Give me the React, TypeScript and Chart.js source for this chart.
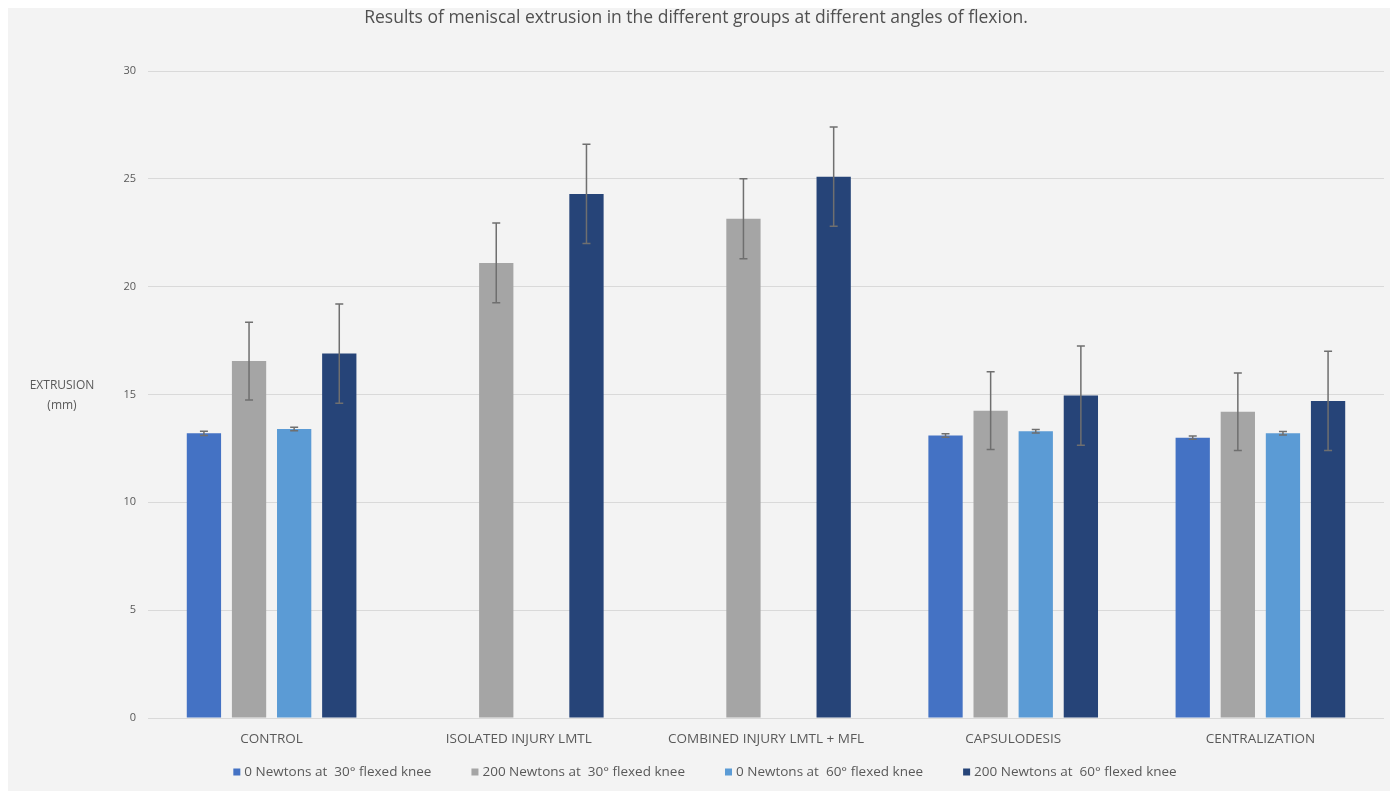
import React, { useEffect, useRef } from "react";
import { Chart, registerables } from "chart.js";

Chart.register(...registerables);

const categories = [
  "CONTROL",
  "ISOLATED INJURY LMTL",
  "COMBINED INJURY LMTL + MFL",
  "CAPSULODESIS",
  "CENTRALIZATION",
];

const seriesLabels = [
  "0 Newtons at  30° flexed knee",
  "200 Newtons at  30° flexed knee",
  "0 Newtons at  60° flexed knee",
  "200 Newtons at  60° flexed knee",
];

const seriesColors = ["#4472c4", "#a5a5a5", "#5b9bd5", "#264478"];

const n0deg30 = [13.2, null, null, 13.1, 13.0];
const n200deg30 = [16.55, 21.1, 23.15, 14.25, 14.2];
const n0deg60 = [13.4, null, null, 13.3, 13.2];
const n200deg60 = [16.9, 24.3, 25.1, 14.95, 14.7];

const err0deg30 = [0.1, null, null, 0.08, 0.08];
const err200deg30 = [1.8, 1.85, 1.85, 1.8, 1.8];
const err0deg60 = [0.08, null, null, 0.08, 0.08];
const err200deg60 = [2.3, 2.3, 2.3, 2.3, 2.3];

const yTicks = [0, 5, 10, 15, 20, 25, 30];

const seriesValues = [n0deg30, n200deg30, n0deg60, n200deg60];
const seriesErrors = [err0deg30, err200deg30, err0deg60, err200deg60];

const FONT = "'Open Sans', 'Noto Sans', sans-serif";

const errorBarPlugin = {
  id: "errorBars",
  afterDatasetsDraw(chart: any) {
    const ctx = chart.ctx;
    const yScale = chart.scales.y;
    ctx.save();
    ctx.strokeStyle = "#6f6f6f";
    ctx.lineWidth = 1.5;
    chart.data.datasets.forEach((ds: any, di: number) => {
      const meta = chart.getDatasetMeta(di);
      const errs = seriesErrors[di];
      meta.data.forEach((el: any, i: number) => {
        const v = ds.data[i];
        const e = errs[i];
        if (v == null || e == null) return;
        const x = el.x;
        const yHi = yScale.getPixelForValue(v + e);
        const yLo = yScale.getPixelForValue(v - e);
        ctx.beginPath();
        ctx.moveTo(x, yLo);
        ctx.lineTo(x, yHi);
        ctx.moveTo(x - 4, yHi);
        ctx.lineTo(x + 4, yHi);
        ctx.moveTo(x - 4, yLo);
        ctx.lineTo(x + 4, yLo);
        ctx.stroke();
      });
    });
    ctx.restore();
  },
};

const axisLabelPlugin = {
  id: "axisLabel",
  afterDraw(chart: any) {
    const ctx = chart.ctx;
    ctx.save();
    ctx.fillStyle = "#595959";
    ctx.font = `12px ${FONT}`;
    ctx.textAlign = "center";
    ctx.textBaseline = "middle";
    ctx.fillText("EXTRUSION", 54, 378);
    ctx.fillText("(mm)", 54, 398);
    ctx.restore();
  },
};

const customLegendPlugin = {
  id: "customLegend",
  afterDraw(chart: any) {
    const ctx = chart.ctx;
    ctx.save();
    ctx.font = `13.5px ${FONT}`;
    ctx.textBaseline = "middle";
    ctx.textAlign = "left";
    const box = 7;
    const boxGap = 4;
    const itemGap = 40;
    const widths = seriesLabels.map((t) => ctx.measureText(t).width + box + boxGap);
    const total = widths.reduce((a, b) => a + b, 0) + itemGap * (widths.length - 1);
    let x = chart.width / 2 + 6 - total / 2;
    const y = 764;
    seriesLabels.forEach((t, i) => {
      ctx.fillStyle = seriesColors[i];
      ctx.fillRect(x, y - box / 2, box, box);
      ctx.fillStyle = "#595959";
      ctx.fillText(t, x + box + boxGap, y);
      x += widths[i] + itemGap;
    });
    ctx.restore();
  },
};

export default function App() {
  const ref = useRef<HTMLCanvasElement | null>(null);

  useEffect(() => {
    if (!ref.current) return;
    const chart = new Chart(ref.current, {
      type: "bar",
      data: {
        labels: categories,
        datasets: seriesLabels.map((label, i) => ({
          label,
          data: seriesValues[i] as any,
          backgroundColor: seriesColors[i],
          borderWidth: 0,
          barPercentage: 0.76,
          categoryPercentage: 0.73,
        })),
      },
      options: {
        animation: false,
        responsive: true,
        maintainAspectRatio: false,
        layout: { padding: { left: 0, right: 6, top: 0, bottom: 33 } },
        plugins: {
          title: {
            display: true,
            text: "Results of meniscal extrusion in the different groups at different angles of flexion.",
            color: "#505050",
            font: { family: FONT, size: 17.5, weight: "normal" },
            padding: { top: 0, bottom: 42 },
          },
          legend: { display: false },
          tooltip: { enabled: false },
        },
        scales: {
          x: {
            grid: { display: false, drawTicks: false },
            border: { display: false },
            ticks: {
              color: "#595959",
              font: { family: FONT, size: 13.5 },
              padding: 13,
              maxRotation: 0,
              autoSkip: false,
            },
            afterFit(scale: any) {
              scale.height = 40;
            },
          },
          y: {
            min: 0,
            max: 30,
            afterBuildTicks(scale: any) {
              scale.ticks = yTicks.map((v) => ({ value: v }));
            },
            grid: { color: "#d9d9d9", drawTicks: false, lineWidth: 1 },
            border: { display: false },
            ticks: {
              color: "#595959",
              font: { family: FONT, size: 11 },
              padding: 12,
            },
            afterFit(scale: any) {
              scale.width = 140;
            },
          },
        },
      },
      plugins: [errorBarPlugin, axisLabelPlugin, customLegendPlugin],
    });
    return () => chart.destroy();
  }, []);

  return (
    <div style={{ width: 1382, height: 783, background: "#f3f3f3", position: "relative" }}>
      <canvas ref={ref} />
    </div>
  );
}
